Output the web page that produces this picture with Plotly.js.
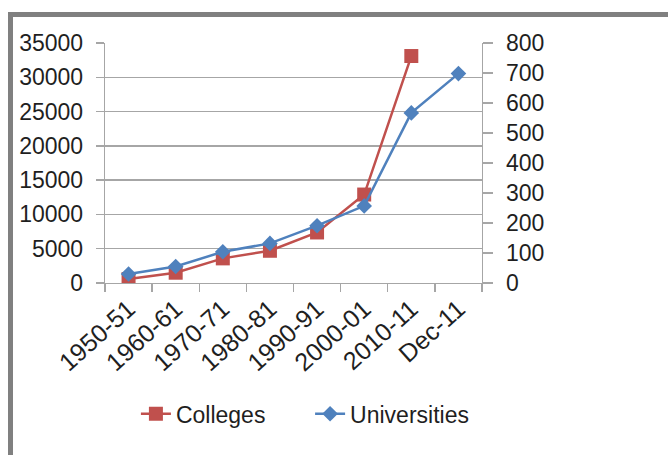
<!DOCTYPE html>
<html>
<head>
<meta charset="utf-8">
<script src="https://cdn.plot.ly/plotly-3.0.1.min.js"></script>
<style>
  html, body { margin: 0; padding: 0; background: #ffffff; }
  #wrap { position: relative; width: 668px; height: 455px; overflow: hidden; }
  #chart { position: absolute; left: 0; top: 0; width: 668px; height: 455px; }
  #frame { position: absolute; left: 8px; top: 12px; width: 700px; height: 500px;
           border-left: 5px solid #808080; border-top: 5px solid #808080; pointer-events: none; }
</style>
</head>
<body>
<div id="wrap">
  <div id="chart"></div>
  <div id="frame"></div>
</div>
<script>
const categories = ["1950-51", "1960-61", "1970-71", "1980-81", "1990-91", "2000-01", "2010-11", "Dec-11"];
const colleges = [578, 1500, 3590, 4700, 7370, 12900, 33100, null];
const universities = [30, 55, 104, 132, 191, 257, 567, 698];
const leftTicks = [0, 5000, 10000, 15000, 20000, 25000, 30000, 35000];
const rightTicks = [0, 100, 200, 300, 400, 500, 600, 700, 800];

const font = "Liberation Sans, Arial, sans-serif";
const txt = "#1f1f1f";
const grid = "#a6a6a6";

const traces = [
  {
    x: categories, y: colleges, name: "Colleges", type: "scatter", mode: "lines+markers",
    line: { color: "#C0504D", width: 2.5 },
    marker: { symbol: "square", size: 14, color: "#C0504D" },
    yaxis: "y", legend: "legend"
  },
  {
    x: categories, y: universities, name: "Universities", type: "scatter", mode: "lines+markers",
    line: { color: "#4F81BD", width: 2.5 },
    marker: { symbol: "diamond", size: 12, color: "#4F81BD" },
    yaxis: "y2", legend: "legend2"
  }
];

const legendFont = { family: font, size: 23, color: txt };

const layout = {
  width: 668, height: 455,
  margin: { l: 105, r: 186, t: 43, b: 172 },
  paper_bgcolor: "#ffffff", plot_bgcolor: "#ffffff",
  font: { family: font, size: 23, color: txt },
  showlegend: true,
  legend: {
    orientation: "h", x: 0.082, xanchor: "left", y: -0.545, yanchor: "middle",
    font: legendFont, bgcolor: "rgba(0,0,0,0)"
  },
  legend2: {
    orientation: "h", x: 0.544, xanchor: "left", y: -0.545, yanchor: "middle",
    font: legendFont, bgcolor: "rgba(0,0,0,0)"
  },
  xaxis: {
    type: "category", tickangle: -42, tickson: "boundaries",
    ticks: "outside", ticklen: 8, tickcolor: grid, tickwidth: 1.3,
    showline: true, linecolor: grid, linewidth: 1.3,
    showgrid: false, zeroline: false,
    tickfont: { family: font, size: 25, color: txt },
    range: [-0.5, 7.5]
  },
  yaxis: {
    range: [0, 35000], tickvals: leftTicks, ticktext: leftTicks.map(String),
    ticks: "outside", ticklen: 8, tickcolor: grid, tickwidth: 1.3,
    showline: true, linecolor: grid, linewidth: 1.3,
    showgrid: true, gridcolor: grid, gridwidth: 1.3, zeroline: false,
    tickfont: { family: font, size: 23, color: txt },
    ticklabelstandoff: 8
  },
  yaxis2: {
    range: [0, 800], tickvals: rightTicks, ticktext: rightTicks.map(String),
    overlaying: "y", side: "right",
    ticks: "outside", ticklen: 10, tickcolor: grid, tickwidth: 1.3,
    showline: true, linecolor: grid, linewidth: 1.3,
    showgrid: false, zeroline: false,
    tickfont: { family: font, size: 23, color: txt },
    ticklabelstandoff: 8
  }
};

Plotly.newPlot("chart", traces, layout, { staticPlot: true, displayModeBar: false });
</script>
</body>
</html>
